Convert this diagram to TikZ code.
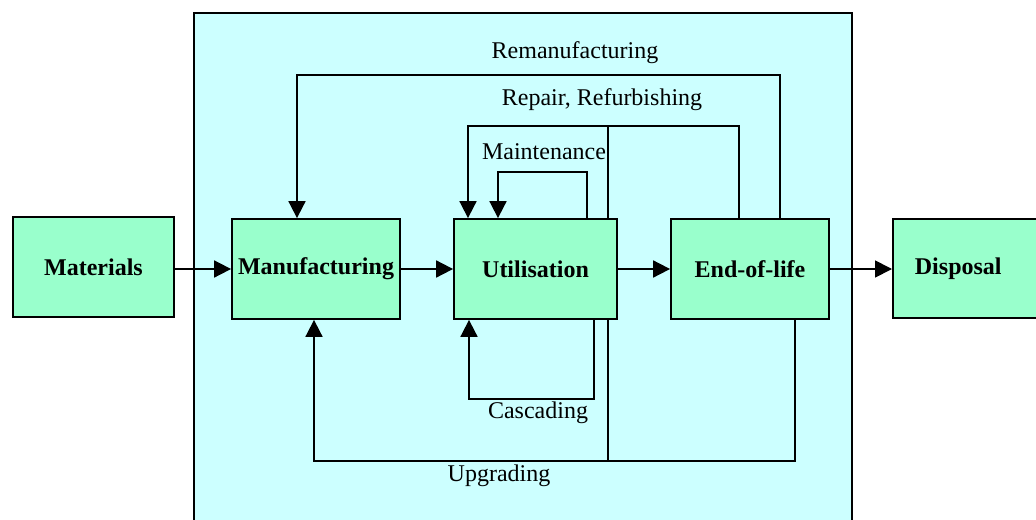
\documentclass[tikz,border=0pt]{standalone}
\usepackage{fontspec}
\setmainfont{Liberation Serif}
\usetikzlibrary{arrows.meta}

\definecolor{stagegreen}{HTML}{99FFCC}
\definecolor{plantcyan}{HTML}{CCFFFF}

\tikzset{
	stage/.style={draw, line width=0.9pt, fill=stagegreen, font=\fontsize{12}{14}\selectfont\bfseries, minimum height=50pt, inner sep=0pt},
	flow/.style={line width=0.9pt, -{Triangle[length=8.5pt,width=8.5pt]}},
	link/.style={line width=0.9pt},
	looplabel/.style={font=\fontsize{12}{14}\selectfont, inner sep=0pt},
}

\begin{document}
\begin{tikzpicture}[x=0.5pt, y=-0.5pt]
	\clip (0,0) rectangle (1036,519);
	\draw[line width=0.9pt, fill=plantcyan] (194,13) rectangle (852,540);

	\node[stage, minimum width=80.5pt] (materials) at (93.5,267) {Materials};
	\node[stage, minimum width=84pt] (manufacturing) at (316,269) {Manufacturing};
	\node[stage, minimum width=81.5pt] (utilisation) at (535.5,269) {Utilisation};
	\node[stage, minimum width=79pt] (endoflife) at (750,269) {End-of-life};
	\node[stage, anchor=west, inner xsep=11pt, text width=70pt, align=left, minimum height=49.5pt] (disposal) at (892,268.5) {Disposal};

	\draw[flow] (materials.east |- manufacturing) -- (manufacturing.west);
	\draw[flow] (manufacturing.east) -- (utilisation.west);
	\draw[flow] (utilisation.east) -- (endoflife.west);
	\draw[flow] (endoflife.east) -- (endoflife.east -| disposal.west);

	% loops above
	\coordinate (remanR) at (780,75);
	\coordinate (remanL) at (297,75);
	\draw[flow] (endoflife.north -| remanR) -- (remanR) -- (remanL) -- (remanL |- manufacturing.north);
	\node[looplabel] (reman) at (575,53) {Remanufacturing};

	\coordinate (repairR) at (739,126);
	\coordinate (repairL) at (468,126);
	\coordinate (repairM) at (608,126);
	\draw[flow] (endoflife.north -| repairR) -- (repairR) -- (repairL) -- (repairL |- utilisation.north);
	\draw[link] (repairM) -- (repairM |- utilisation.north);
	\node[looplabel] (repair) at (602,100) {Repair, Refurbishing};

	\coordinate (maintR) at (587,172);
	\coordinate (maintL) at (498,172);
	\draw[flow] (utilisation.north -| maintR) -- (maintR) -- (maintL) -- (maintL |- utilisation.north);
	\node[looplabel] (maint) at (544,152) {Maintenance};

	% loops below
	\coordinate (cascR) at (594,399);
	\coordinate (cascL) at (469,399);
	\draw[flow] (utilisation.south -| cascR) -- (cascR) -- (cascL) -- (cascL |- utilisation.south);
	\node[looplabel] (casc) at (538,413) {Cascading};

	\coordinate (upR) at (795,461);
	\coordinate (upL) at (314,461);
	\coordinate (upM) at (608,461);
	\draw[flow] (endoflife.south -| upR) -- (upR) -- (upL) -- (upL |- manufacturing.south);
	\draw[link] (utilisation.south -| upM) -- (upM);
	\node[looplabel] (upgrade) at (499,476) {Upgrading};
\end{tikzpicture}
\end{document}
